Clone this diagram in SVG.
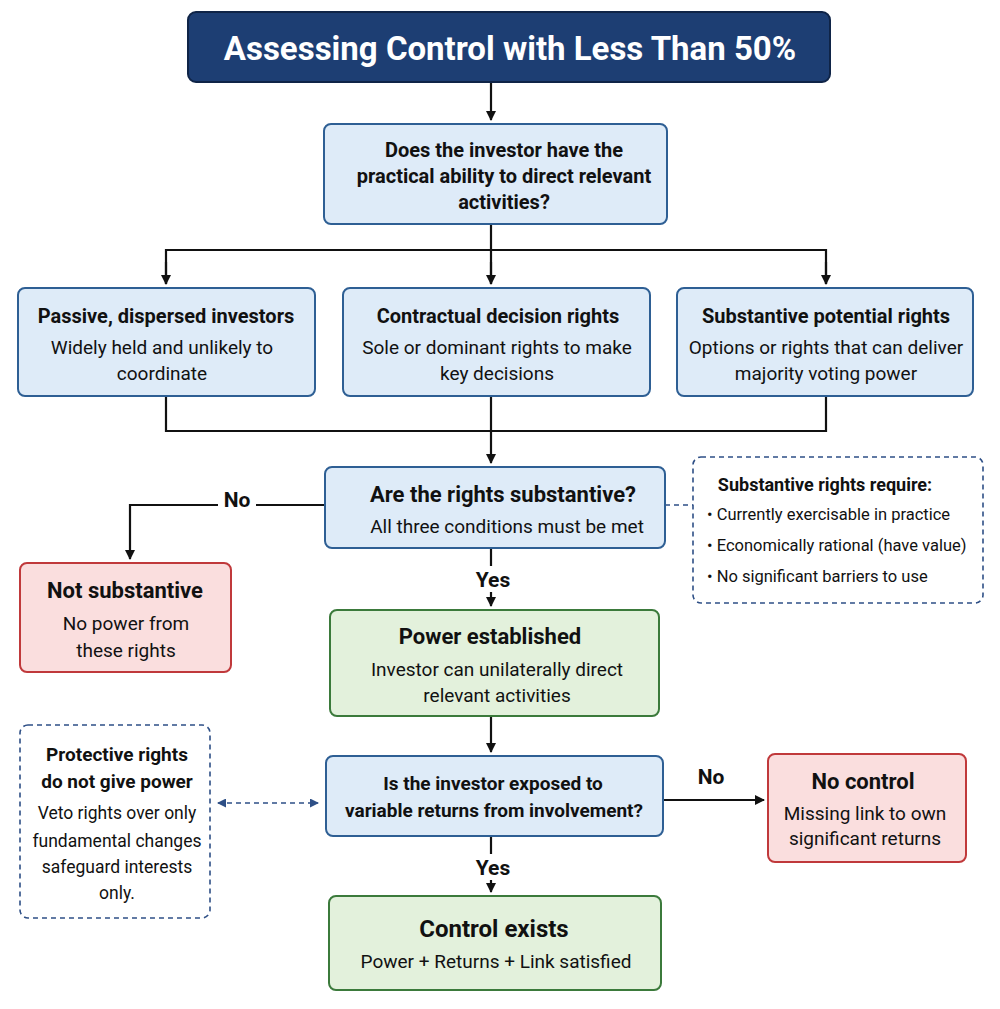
<svg xmlns="http://www.w3.org/2000/svg" width="1000" height="1009" viewBox="0 0 1000 1009">
<defs>
<marker id="ah" markerWidth="10" markerHeight="10" refX="9" refY="5" orient="auto-start-reverse" markerUnits="userSpaceOnUse"><path d="M0,0 L10,5 L0,10 Z" fill="#111"/></marker>
<marker id="ahb" markerWidth="9" markerHeight="9" refX="8" refY="4.5" orient="auto-start-reverse" markerUnits="userSpaceOnUse"><path d="M0,0 L9,4.5 L0,9 Z" fill="#2e4f86"/></marker>
<style>
text{font-family:Roboto,"Liberation Sans",sans-serif;fill:#111;text-anchor:middle}
.b{font-weight:bold}
.blue{fill:#deebf8;stroke:#2e5f94;stroke-width:2}
.red{fill:#fadede;stroke:#c0393b;stroke-width:2}
.green{fill:#e3f1dc;stroke:#3b7a3b;stroke-width:2}
.note{fill:#fff;stroke:#2e4f86;stroke-width:1.6;stroke-dasharray:5,4}
.ln{fill:none;stroke:#111;stroke-width:2.2}
.dl{fill:none;stroke:#2e4f86;stroke-width:1.6;stroke-dasharray:5,4}
</style>
</defs>
<rect width="1000" height="1009" fill="#fff"/>
<g id="connectors">
<path class="ln" d="M491,82 V120" marker-end="url(#ah)"/>
<path class="ln" d="M491,224 V250 M166,284 V250 H826 V284 M491,250 V284" />
<path class="ln" d="M166,262 V284" marker-end="url(#ah)"/>
<path class="ln" d="M491,262 V284" marker-end="url(#ah)"/>
<path class="ln" d="M826,262 V284" marker-end="url(#ah)"/>
<path class="ln" d="M166,396 V431 H826 V396"/>
<path class="ln" d="M491,396 V463" marker-end="url(#ah)"/>
<path class="ln" d="M325,505 H130 V559" marker-end="url(#ah)"/>
<path class="dl" d="M665,505 H693"/>
<path class="ln" d="M491,548 V606" marker-end="url(#ah)"/>
<path class="ln" d="M491,716 V752" marker-end="url(#ah)"/>
<path class="ln" d="M663,800 H764" marker-end="url(#ah)"/>
<path class="ln" d="M491,836 V892" marker-end="url(#ah)"/>
<path class="dl" d="M218,803 H318" marker-start="url(#ahb)" marker-end="url(#ahb)"/>
<rect x="218" y="486" width="38" height="26" fill="#fff"/>
<text x="237" y="507" class="b" font-size="21">No</text>
<rect x="468" y="566" width="48" height="26" fill="#fff"/>
<text x="493" y="587" class="b" font-size="21">Yes</text>
<text x="711" y="784" class="b" font-size="21">No</text>
<rect x="468" y="854" width="48" height="26" fill="#fff"/>
<text x="493" y="875" class="b" font-size="21">Yes</text>
</g>
<g id="title"><rect x="188" y="12" width="642" height="70" rx="8" fill="#1d3e73" stroke="#0f2447" stroke-width="2"/>
<text x="510" y="60" class="b" font-size="33" style="fill:#fff">Assessing Control with Less Than 50%</text></g>
<g id="q1"><rect class="blue" x="324" y="124" width="343" height="100" rx="7"/>
<text class="b" font-size="20"><tspan x="504" y="157">Does the investor have the</tspan><tspan x="504" y="183">practical ability to direct relevant</tspan><tspan x="504" y="209">activities?</tspan></text></g>
<g id="passive"><rect class="blue" x="18" y="288" width="297" height="108" rx="7"/>
<text class="b" font-size="20" x="166" y="323">Passive, dispersed investors</text>
<text font-size="19"><tspan x="162" y="354">Widely held and unlikely to</tspan><tspan x="162" y="380">coordinate</tspan></text></g>
<g id="contractual"><rect class="blue" x="343" y="288" width="307" height="108" rx="7"/>
<text class="b" font-size="20" x="498" y="323">Contractual decision rights</text>
<text font-size="19"><tspan x="497" y="354">Sole or dominant rights to make</tspan><tspan x="497" y="380">key decisions</tspan></text></g>
<g id="potential"><rect class="blue" x="677" y="288" width="296" height="108" rx="7"/>
<text class="b" font-size="20" x="826" y="323">Substantive potential rights</text>
<text font-size="19"><tspan x="826" y="354">Options or rights that can deliver</tspan><tspan x="826" y="380">majority voting power</tspan></text></g>
<g id="q2"><rect class="blue" x="325" y="467" width="340" height="81" rx="7"/>
<text class="b" font-size="22" x="503" y="502">Are the rights substantive?</text>
<text font-size="19" x="507" y="533">All three conditions must be met</text></g>
<g id="note1"><rect class="note" x="693" y="457" width="290" height="146" rx="8"/>
<text class="b" font-size="18" x="825" y="491">Substantive rights require:</text>
<text font-size="16.5" style="text-anchor:start"><tspan x="707" y="520">•  Currently exercisable in practice</tspan><tspan x="707" y="551">•  Economically rational (have value)</tspan><tspan x="707" y="582">•  No significant barriers to use</tspan></text></g>
<g id="notsub"><rect class="red" x="20" y="563" width="211" height="109" rx="7"/>
<text class="b" font-size="22" x="125" y="598">Not substantive</text>
<text font-size="19"><tspan x="126" y="630">No power from</tspan><tspan x="126" y="657">these rights</tspan></text></g>
<g id="power"><rect class="green" x="330" y="610" width="329" height="106" rx="7"/>
<text class="b" font-size="22" x="490" y="644">Power established</text>
<text font-size="19"><tspan x="497" y="676">Investor can unilaterally direct</tspan><tspan x="497" y="702">relevant activities</tspan></text></g>
<g id="protective"><rect class="note" x="20" y="725" width="190" height="193" rx="8"/>
<text class="b" font-size="19"><tspan x="117" y="761">Protective rights</tspan><tspan x="117" y="788">do not give power</tspan></text>
<text font-size="17.5"><tspan x="117" y="819">Veto rights over only</tspan><tspan x="117" y="847">fundamental changes</tspan><tspan x="117" y="873">safeguard interests</tspan><tspan x="117" y="899">only.</tspan></text></g>
<g id="q3"><rect class="blue" x="326" y="756" width="337" height="80" rx="7"/>
<text class="b" font-size="19"><tspan x="493" y="790">Is the investor exposed to</tspan><tspan x="494" y="817">variable returns from involvement?</tspan></text></g>
<g id="nocontrol"><rect class="red" x="768" y="754" width="198" height="108" rx="7"/>
<text class="b" font-size="22" x="863" y="789">No control</text>
<text font-size="19"><tspan x="865" y="820">Missing link to own</tspan><tspan x="865" y="845">significant returns</tspan></text></g>
<g id="control"><rect class="green" x="329" y="896" width="332" height="94" rx="7"/>
<text class="b" font-size="24" x="494" y="937">Control exists</text>
<text font-size="19" x="496" y="968">Power + Returns + Link satisfied</text></g>
</svg>
